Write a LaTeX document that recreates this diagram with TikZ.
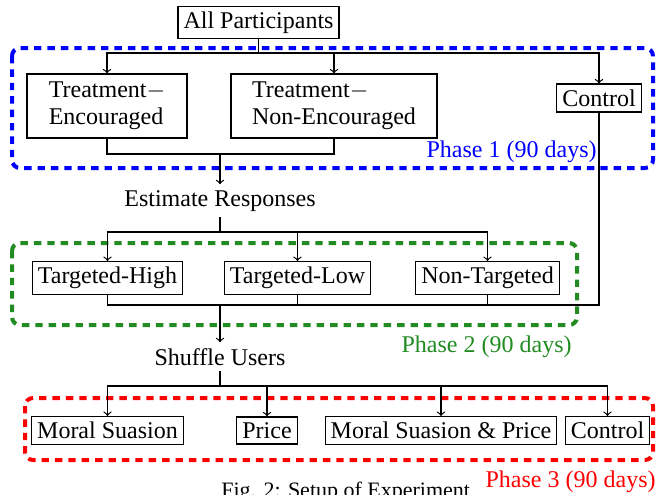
\documentclass[tikz,border=0pt]{standalone}
\usepackage{fontspec}
\setmainfont{Liberation Serif}
\usetikzlibrary{arrows}
\definecolor{phasegreen}{RGB}{34,139,34}
\tikzset{every node/.style={font=\fontsize{12}{13.5}\selectfont},
	box/.style={draw,line width=0.6pt,inner sep=2.75pt},
	twoline/.style={box,align=left,minimum height=32pt},
	plain/.style={inner sep=2.75pt},
	phase/.style={dash pattern=on 3.7pt off 3pt,line width=2pt,rounded corners=4pt},
	phaselabel/.style={anchor=base east,inner sep=0pt},
	link/.style={line width=0.6pt}}

\begin{document}
\begin{tikzpicture}[x=0.5pt,y=-0.5pt]
	\useasboundingbox (0,0) rectangle (665,494);
	\draw[phase,blue] (12,48) rectangle (653,168);
	\draw[phase,phasegreen] (12,243) rectangle (577,325);
	\draw[phase,red] (25,398) rectangle (653,460);
	
	\node[box] (ap) at (258.5,22.5) {All Participants};
	\node[twoline,minimum width=80pt] (te) at (107,106) {Treatment$-$\\Encouraged};
	\node[twoline,minimum width=103pt] (tne) at (334,106) {Treatment$-$\\Non-Encouraged};
	\node[box] (ctrla) at (599,98) {Control};
	\node[plain,anchor=base] (est) at (220,206) {Estimate Responses};
	\node[box] (th) at (107.5,278) {Targeted-High};
	\node[box] (tl) at (297.5,278) {Targeted-Low};
	\node[box] (nt) at (487.5,278) {Non-Targeted};
	\node[plain,anchor=base] (shuf) at (220,365) {Shuffle Users};
	\node[box] (ms) at (107.5,430.5) {Moral Suasion};
	\node[box] (pr) at (267,430.5) {Price};
	\node[box] (msp) at (441,430.5) {Moral Suasion \& Price};
	\node[box] (ctrlb) at (607.5,430.5) {Control};
	
	\node[phaselabel,blue] (pa) at (597,157) {Phase 1 (90 days)};
	\node[phaselabel,phasegreen] (pb) at (572,352) {Phase 2 (90 days)};
	\node[phaselabel,red] (pc) at (656,487) {Phase 3 (90 days)};
	\node[anchor=base west,inner sep=0pt,font=\fontsize{11}{13}\selectfont] (cap) at (221,497) {Fig. 2: Setup of Experiment};
	
	\coordinate (s1) at (258.5,53);
	\coordinate (m1) at (220,154);
	\coordinate (s2) at (220,232);
	\coordinate (m2) at (220,305);
	\coordinate (s3) at (220,386);
	
	\draw[link] (ap) -- (s1);
	\draw[link,->] (s1) -| (te);
	\draw[link,->] (s1) -| (tne);
	\draw[link,->] (s1) -| (ctrla);
	\draw[link] (te) |- (m1) -| (tne);
	\draw[link,->] (m1) -- (est);
	
	\draw[link] (est) -- (s2);
	\draw[link,->] (s2) -| (th);
	\draw[link,->] (s2) -| (tl);
	\draw[link,->] (s2) -| (nt);
	\draw[link] (th) |- (m2);
	\draw[link] (tl) |- (m2);
	\draw[link] (nt) |- (m2);
	\draw[link] (ctrla) |- (m2);
	\draw[link,->] (m2) -- (shuf);
	
	\draw[link] (shuf) -- (s3);
	\draw[link,->] (s3) -| (ms);
	\draw[link,->] (s3) -| (pr);
	\draw[link,->] (s3) -| (msp);
	\draw[link,->] (s3) -| (ctrlb);
\end{tikzpicture}
\end{document}
